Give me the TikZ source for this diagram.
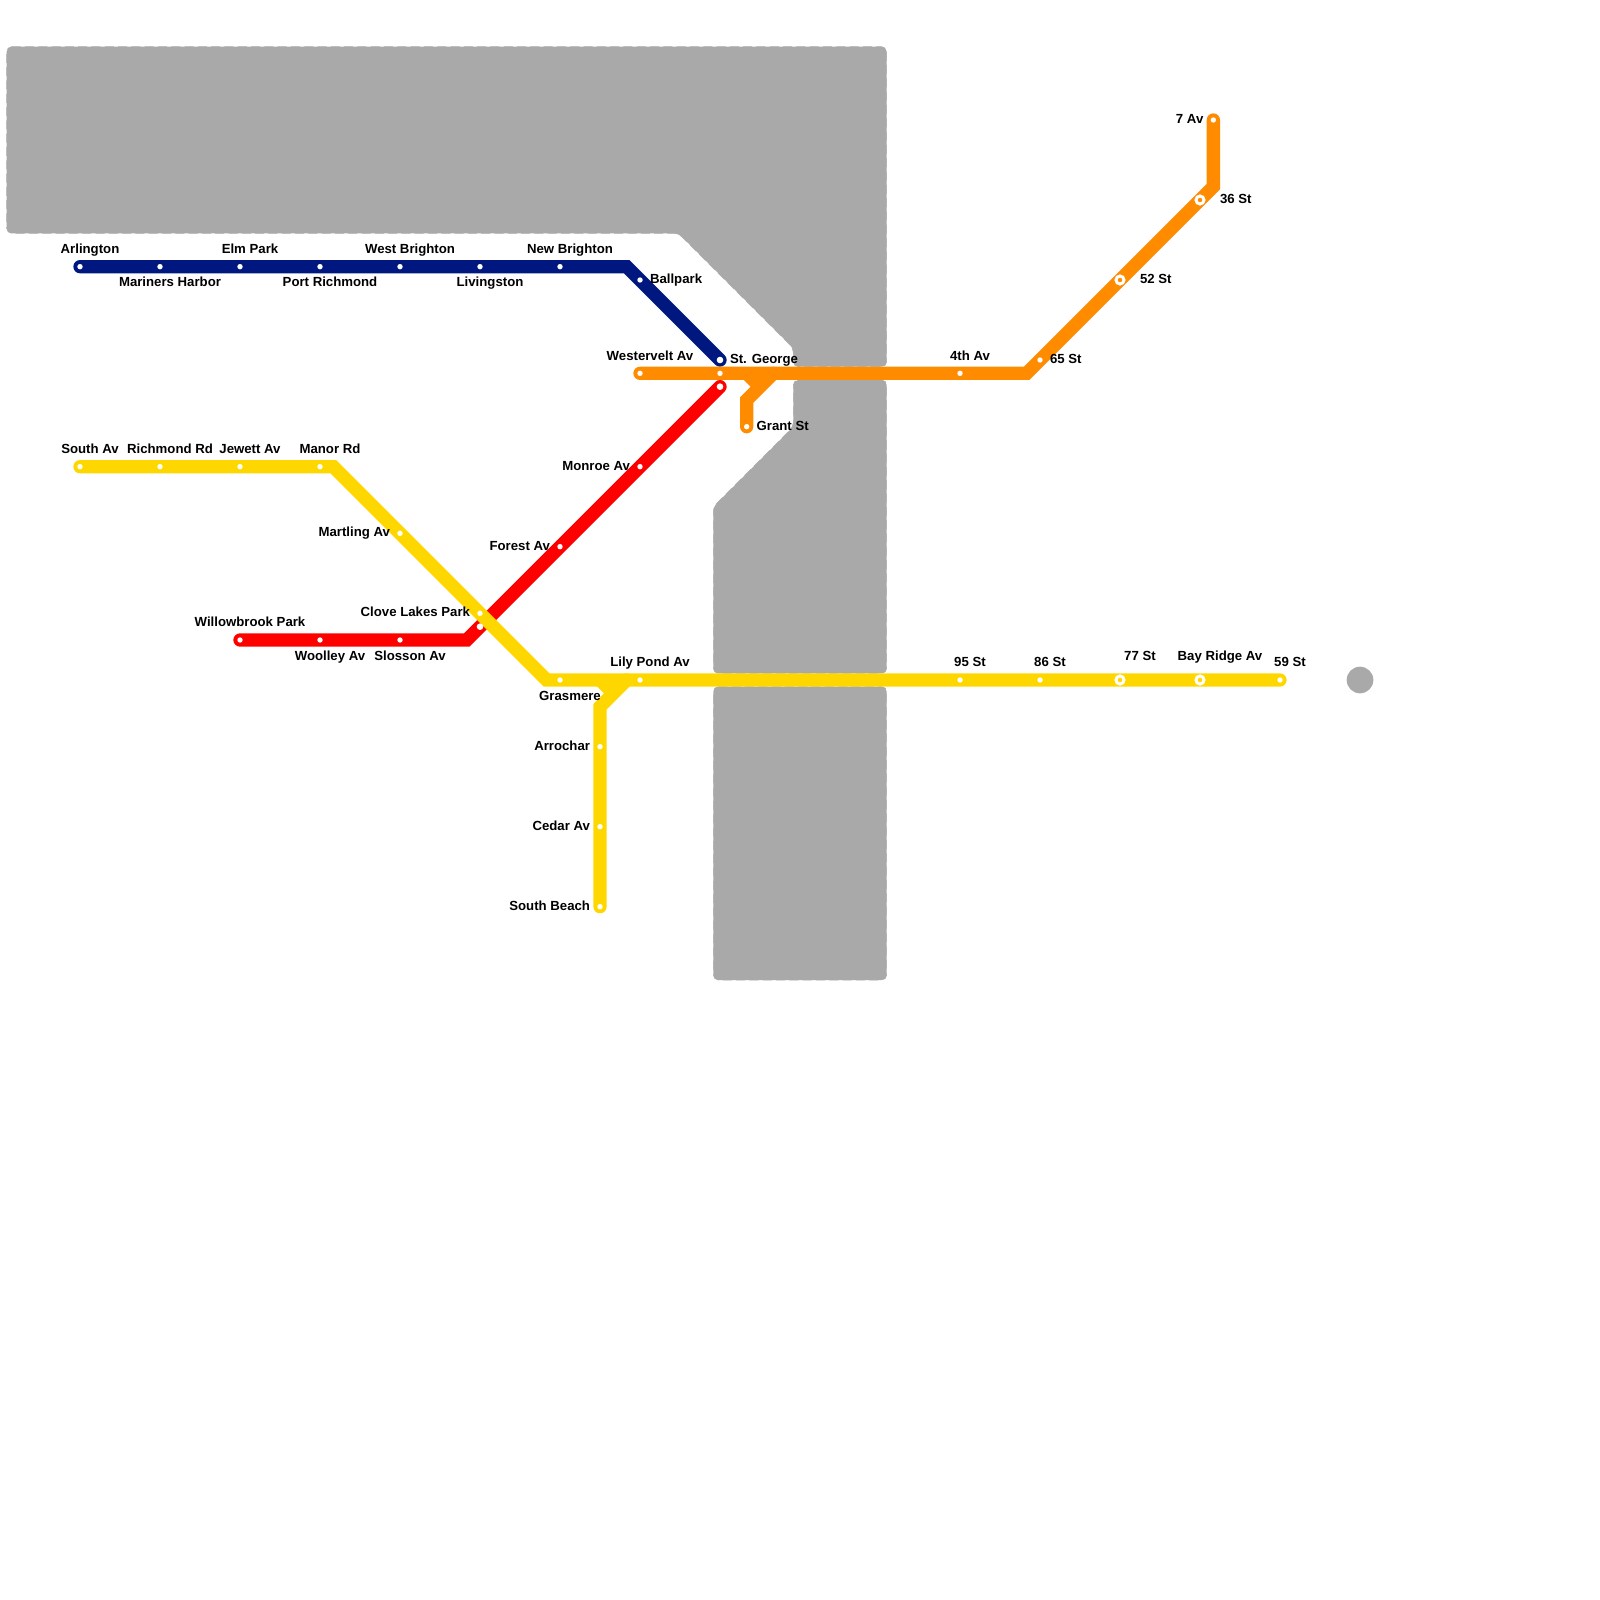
\documentclass[tikz,border=0pt]{standalone}
\usepackage{fontspec}
\setmainfont{Liberation Sans}
\usetikzlibrary{positioning, arrows.meta, calc, fit}
\definecolor{watergray}{HTML}{A9A9A9}
\definecolor{bluetrack}{HTML}{00177F}
\definecolor{redtrack}{HTML}{FF0000}
\definecolor{orangetrack}{HTML}{FF8C00}
\definecolor{yellowtrack}{HTML}{FFD700}
\pgfdeclarelayer{water}
\pgfdeclarelayer{track}
\pgfsetlayers{water,track,main}
\tikzset{
  water/.style={fill=watergray, draw=watergray, line width=0.5pt, dash pattern=on 9pt off 4.3pt, rounded corners=5pt},
  track/.style={line width=13.33pt, line cap=round, miter limit=10},
  stop/.style={circle, fill=white, inner sep=0pt, outer sep=0pt, minimum size=5.4pt},
  endstop/.style={stop, minimum size=6.6pt},
  ringstop/.style={circle, draw=white, line width=3pt, inner sep=0pt, outer sep=0pt, minimum size=8pt},
  elbow/.style={inner sep=0pt, outer sep=0pt, minimum size=0pt},
  stationtext/.style={inner sep=0pt, outer sep=0pt, font=\fontsize{13.2}{13.2}\selectfont\bfseries},
  textN/.style={stationtext, anchor=base, xshift=10pt, yshift=13.3pt},
  textS/.style={stationtext, anchor=base, xshift=10pt, yshift=-20pt},
  textE/.style={stationtext, anchor=base west, xshift=10pt, yshift=-3.5pt},
  textW/.style={stationtext, anchor=base east, xshift=-10pt, yshift=-3.5pt},
  ringN/.style={stationtext, anchor=base, xshift=20pt, yshift=20pt},
  ringE/.style={stationtext, anchor=base west, xshift=20pt, yshift=-3.5pt}
}
\begin{document}
\begin{tikzpicture}[x=1pt, y=-1pt]
  \useasboundingbox (0,0) rectangle (1600,1600);
  % stations
  \node[stop] (arlington) at (80, 266.67) {};
  \node[stop] (mariners) at (160, 266.67) {};
  \node[stop] (elmpark) at (240, 266.67) {};
  \node[stop] (portrichmond) at (320, 266.67) {};
  \node[stop] (westbrighton) at (400, 266.67) {};
  \node[stop] (livingston) at (480, 266.67) {};
  \node[stop] (newbrighton) at (560, 266.67) {};
  \node[stop] (ballpark) at (640, 280) {};
  \node[endstop] (stgeorge) at (720, 360) {};
  \node[stop] (westervelt) at (640, 373.33) {};
  \node[stop] (ferry) at (720, 373.33) {};
  \node[stop] (fourthav) at (960, 373.33) {};
  \node[stop] (sixtyfive) at (1040, 360) {};
  \node[ringstop] (fiftytwo) at (1120, 280) {};
  \node[ringstop] (thirtysix) at (1200, 200) {};
  \node[stop] (sevenav) at (1213.33, 120) {};
  \node[stop] (grantst) at (746.67, 426.67) {};
  \node[endstop] (redend) at (720, 386.67) {};
  \node[stop] (monroe) at (640, 466.67) {};
  \node[stop] (forest) at (560, 546.67) {};
  \node[endstop] (redclove) at (480, 626.67) {};
  \node[stop] (slosson) at (400, 640) {};
  \node[stop] (woolley) at (320, 640) {};
  \node[stop] (willowbrook) at (240, 640) {};
  \node[stop] (southav) at (80, 466.67) {};
  \node[stop] (richmondrd) at (160, 466.67) {};
  \node[stop] (jewett) at (240, 466.67) {};
  \node[stop] (manorrd) at (320, 466.67) {};
  \node[stop] (martling) at (400, 533.33) {};
  \node[stop] (clovelakes) at (480, 613.33) {};
  \node[stop] (grasmere) at (560, 680) {};
  \node[stop] (lilypond) at (640, 680) {};
  \node[stop] (ninetyfive) at (960, 680) {};
  \node[stop] (eightysix) at (1040, 680) {};
  \node[ringstop] (seventyseven) at (1120, 680) {};
  \node[ringstop] (bayridge) at (1200, 680) {};
  \node[stop] (fiftynine) at (1280, 680) {};
  \node[stop] (arrochar) at (600, 746.67) {};
  \node[stop] (cedar) at (600, 826.67) {};
  \node[stop] (southbeach) at (600, 906.67) {};
  % bends of the lines
  \node[elbow] (bluebend) at (626.67, 266.67) {};
  \node[elbow] (orangebend) at (1026.67, 373.33) {};
  \node[elbow] (orangetop) at (1213.33, 186.67) {};
  \node[elbow] (grantfork) at (746.67, 373.33) {};
  \node[elbow] (grantstub) at (760, 386.67) {};
  \node[elbow] (grantbend) at (746.67, 400) {};
  \node[elbow] (grantjoin) at (773.33, 373.33) {};
  \node[elbow] (redbend) at (466.67, 640) {};
  \node[elbow] (yellowtop) at (333.33, 466.67) {};
  \node[elbow] (yellowbend) at (546.67, 680) {};
  \node[elbow] (beachfork) at (600, 680) {};
  \node[elbow] (beachstub) at (613.33, 693.33) {};
  \node[elbow] (beachbend) at (600, 706.67) {};
  \node[elbow] (beachjoin) at (626.67, 680) {};
  % water
  \begin{pgfonlayer}{water}
    \path[water] (6.67, 46.67) -- (886.67, 46.67) -- (886.67, 366.67) -- (793.33, 366.67) -- (793.33, 348.33) -- (678.33, 233.33) -- (6.67, 233.33) -- cycle;
    \path[water] (793.33, 380) -- (886.67, 380) -- (886.67, 673.33) -- (713.33, 673.33) -- (713.33, 506.67) -- (793.33, 426.67) -- cycle;
    \path[water] (713.33, 686.67) -- (886.67, 686.67) -- (886.67, 980) -- (713.33, 980) -- cycle;
    \node[circle, fill=watergray, inner sep=0pt, minimum size=26.67pt] (island) at (1360, 680) {};
  \end{pgfonlayer}
  % lines
  \begin{pgfonlayer}{track}
    \draw[track, bluetrack] (arlington.center) -- (bluebend.center) -- (stgeorge.center);
    \draw[track, orangetrack] (westervelt.center) -- (orangebend.center) -- (orangetop.center) -- (sevenav.center);
    \draw[track, orangetrack, line cap=butt] (grantfork.center) -- (grantstub.center);
    \draw[track, orangetrack] (grantst.center) -- (grantbend.center) -- (grantjoin.center);
    \draw[track, redtrack] (willowbrook.center) -- (redbend.center) -- (redend.center);
    \draw[track, yellowtrack] (southav.center) -- (yellowtop.center) -- (yellowbend.center) -- (fiftynine.center);
    \draw[track, yellowtrack, line cap=butt] (beachfork.center) -- (beachstub.center);
    \draw[track, yellowtrack] (southbeach.center) -- (beachbend.center) -- (beachjoin.center);
  \end{pgfonlayer}
  % labels
  \node[textN] (arlingtontext) at (arlington) {Arlington};
  \node[textS] (marinerstext) at (mariners) {Mariners Harbor};
  \node[textN] (elmparktext) at (elmpark) {Elm Park};
  \node[textS] (portrichmondtext) at (portrichmond) {Port Richmond};
  \node[textN] (westbrightontext) at (westbrighton) {West Brighton};
  \node[textS] (livingstontext) at (livingston) {Livingston};
  \node[textN] (newbrightontext) at (newbrighton) {New Brighton};
  \node[textE] (ballparktext) at (ballpark) {Ballpark};
  \node[textE] (stgeorgetext) at (stgeorge) {St. George};
  \node[textN] (westervelttext) at (westervelt) {Westervelt Av};
  \node[textN] (fourthavtext) at (fourthav) {4th Av};
  \node[textE] (sixtyfivetext) at (sixtyfive) {65 St};
  \node[ringE] (fiftytwotext) at (fiftytwo) {52 St};
  \node[ringE] (thirtysixtext) at (thirtysix) {36 St};
  \node[textW] (sevenavtext) at (sevenav) {7 Av};
  \node[textE] (grantsttext) at (grantst) {Grant St};
  \node[textW] (monroetext) at (monroe) {Monroe Av};
  \node[textW] (foresttext) at (forest) {Forest Av};
  \node[textS] (slossontext) at (slosson) {Slosson Av};
  \node[textS] (woolleytext) at (woolley) {Woolley Av};
  \node[textN] (willowbrooktext) at (willowbrook) {Willowbrook Park};
  \node[textN] (southavtext) at (southav) {South Av};
  \node[textN] (richmondrdtext) at (richmondrd) {Richmond Rd};
  \node[textN] (jewetttext) at (jewett) {Jewett Av};
  \node[textN] (manorrdtext) at (manorrd) {Manor Rd};
  \node[textW] (martlingtext) at (martling) {Martling Av};
  \node[textW] (clovelakestext) at (clovelakes) {Clove Lakes Park};
  \node[textS] (grasmeretext) at (grasmere) {Grasmere};
  \node[textN] (lilypondtext) at (lilypond) {Lily Pond Av};
  \node[textN] (ninetyfivetext) at (ninetyfive) {95 St};
  \node[textN] (eightysixtext) at (eightysix) {86 St};
  \node[ringN] (seventyseventext) at (seventyseven) {77 St};
  \node[ringN] (bayridgetext) at (bayridge) {Bay Ridge Av};
  \node[textN] (fiftyninetext) at (fiftynine) {59 St};
  \node[textW] (arrochartext) at (arrochar) {Arrochar};
  \node[textW] (cedartext) at (cedar) {Cedar Av};
  \node[textW] (southbeachtext) at (southbeach) {South Beach};
\end{tikzpicture}
\end{document}
